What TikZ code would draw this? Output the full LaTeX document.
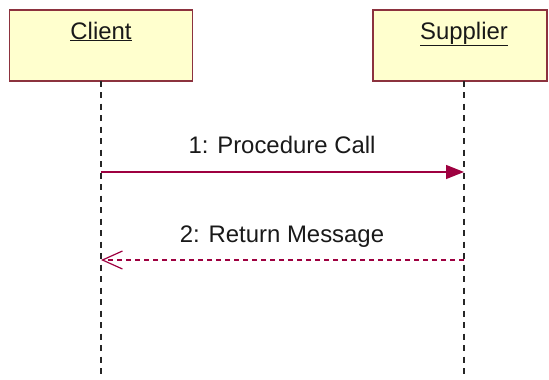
\documentclass[tikz,border=0pt]{standalone}
\usepackage{fontspec}
\setmainfont{Liberation Sans}
\usetikzlibrary{arrows.meta}
\definecolor{boxfill}{RGB}{255,255,206}
\definecolor{boxline}{RGB}{140,50,62}
\definecolor{msgcol}{RGB}{158,0,64}
\tikzset{
  objbox/.style={draw=boxline, line width=1.8bp, fill=boxfill, minimum height=71bp, inner sep=0pt},
  lifeline/.style={draw=black!85, line width=1.6bp, dash pattern=on 6bp off 5.5bp},
  callmsg/.style={draw=msgcol, line width=1.4bp, -{Triangle[length=18bp,width=14bp]}},
  retmsg/.style={draw=msgcol, line width=1.4bp, dash pattern=on 5bp off 4bp, -{Straight Barb[length=20bp,width=18bp,line width=1.2bp]}},
  lbl/.style={font=\fontsize{24}{28}\selectfont, inner sep=0pt, text=black!90, anchor=base}
}
\begin{document}
\begin{tikzpicture}[x=1bp,y=-1bp]
\useasboundingbox (0,0) rectangle (549,379);
\node[objbox, minimum width=183bp, anchor=north west] (client) at (8.5,9) {};
\node[objbox, minimum width=174bp, anchor=north west] (supplier) at (372,9) {};
\node[lbl] (clientlbl) at (101,39) {\underline{Client}};
\node[lbl] (supplierlbl) at (464,39) {\underline{Supplier}};
\coordinate (cb) at (101,80.5);
\coordinate (sb) at (464,80.5);
\coordinate (ce) at (101,377);
\coordinate (se) at (464,377);
\draw[lifeline] (cb) -- (ce);
\draw[lifeline] (sb) -- (se);
\coordinate (m1a) at (101,172);
\coordinate (m1b) at (464,172);
\coordinate (m2a) at (464,260);
\coordinate (m2b) at (101,260);
\draw[callmsg] (m1a) -- (m1b);
\draw[retmsg] (m2a) -- (m2b);
\node[lbl] (l1) at (282,153) {1: Procedure Call};
\node[lbl] (l2) at (282,242) {2: Return Message};
\end{tikzpicture}
\end{document}
